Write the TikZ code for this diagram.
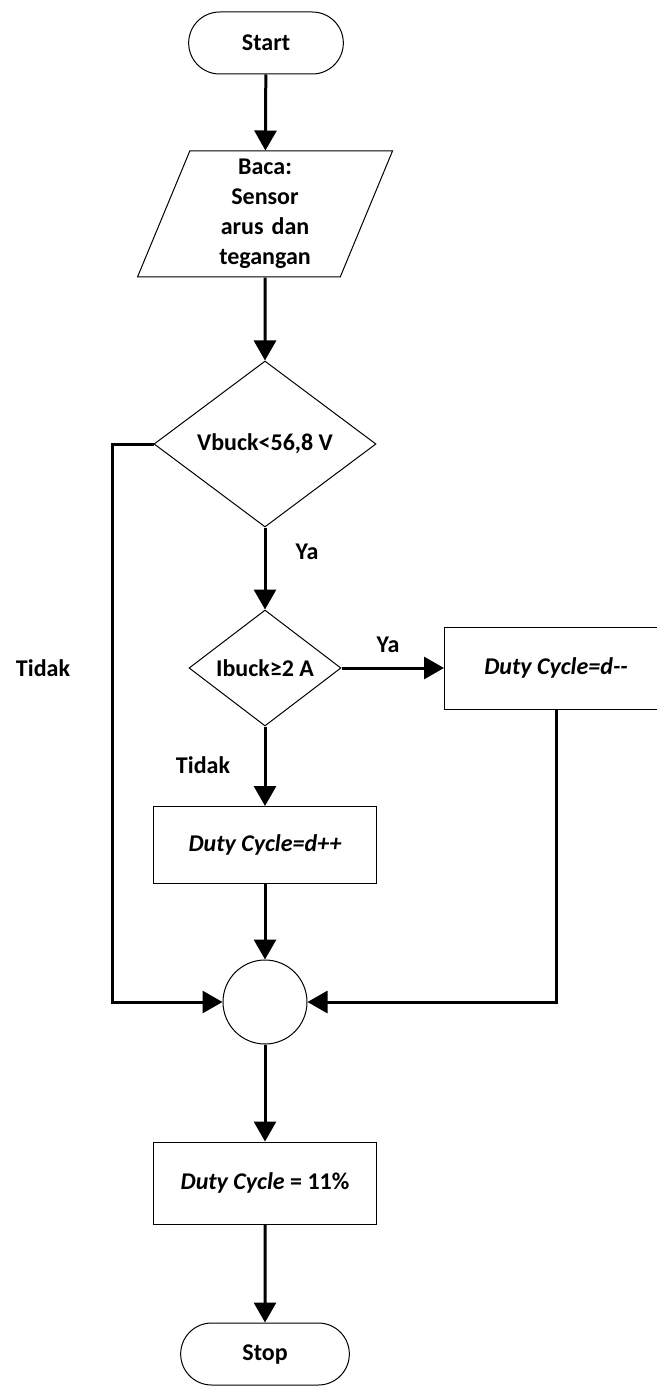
\documentclass[tikz,border=0pt]{standalone}
\usepackage{fontspec}
\setmainfont{Carlito}
\usetikzlibrary{shapes.geometric,shapes.misc,arrows.meta}

\begin{document}
\begin{tikzpicture}
[x=0.5pt,y=-0.5pt,
every node/.style={font=\bfseries\fontsize{12}{15}\selectfont},
terminal/.style={draw,rounded rectangle,line width=0.5pt,minimum width=84pt,minimum height=31pt},
io/.style={draw,trapezium,trapezium left angle=64.5,trapezium right angle=115.5,trapezium stretches body,line width=0.5pt,minimum width=127.5pt,minimum height=63pt,text width=75pt,align=center,inner sep=0pt},
decision/.style={draw,diamond,line width=0.5pt,inner sep=0pt},
process/.style={draw,rectangle,line width=0.5pt,minimum width=111.5pt,minimum height=41pt},
junction/.style={draw,circle,line width=0.5pt,minimum size=42pt,inner sep=0pt},
flow/.style={line width=1.5pt,-{Triangle[length=10pt,width=11pt]}}]
\useasboundingbox (0,0) rectangle (657,1390);
\node[terminal] (start) at (266,43) {Start};
\node[io] (baca) at (265,214) {Baca:\\Sensor\\arus dan\\tegangan};
\node[decision,minimum width=111pt,minimum height=83pt] (dec1) at (265,444) {Vbuck<56,8 V};
\node[decision,minimum width=76pt,minimum height=58pt] (dec2) at (265,668) {Ibuck≥2 A};
\node[process] (dmin) at (556,668) {\textit{Duty Cycle=d{-}{-}}};
\node[process,minimum height=38.5pt] (dplus) at (265,845) {\textit{Duty Cycle=d++}};
\node[junction] (merge) at (265,1002) {};
\node[process] (dset) at (265,1183) {\textit{Duty Cycle} = 11\%};
\node[terminal,minimum width=91pt] (stop) at (265,1354) {Stop};
\coordinate (left) at (112,444);
% labels
\node (ya1) at (307,552) {Ya};
\node (ya2) at (388,645) {Ya};
\node (tidak1) at (43,668) {Tidak};
\node (tidak2) at (203,765) {Tidak};
% connectors
\foreach \from/\to in {start/baca,baca/dec1,dec1/dec2,dec2/dplus,dplus/merge,merge/dset,dset/stop}
\draw[flow] (\from) -- (\to);
\draw[flow] (dec2) -- (dmin);
\draw[flow] (dec1.west) -- (left) |- (merge.west);
\draw[flow] (dmin.south) |- (merge.east);
\end{tikzpicture}
\end{document}
